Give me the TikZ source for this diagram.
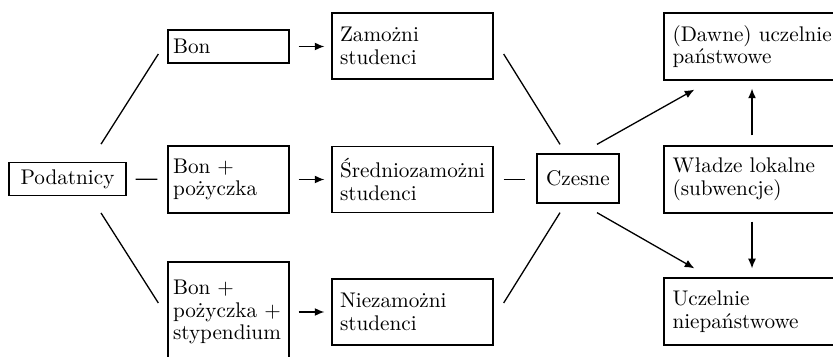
\documentclass[tikz,border=0pt]{standalone}
\usepackage{fontspec}
\usetikzlibrary{arrows.meta}
\hyphenpenalty=10000
\begin{document}
\begin{tikzpicture}[x=0.5pt,y=-0.5pt,
  box/.style={draw, rectangle, line width=0.65pt, inner ysep=0pt,
    font={\fontsize{10.6pt}{11.35pt}\selectfont}},
  cbox/.style={box, align=center, inner xsep=2pt},
  lbox/.style={box, align=left, inner xsep=2.5pt, text width=55.5pt},
  mbox/.style={box, align=left, inner xsep=4pt, text width=72.5pt, minimum height=33pt},
  rbox/.style={box, align=left, inner xsep=4.25pt, text width=79.5pt, minimum height=33.5pt},
  conn/.style={line width=0.65pt},
  arr/.style={conn, -{Latex[length=4.8pt,width=4pt]}}
]
\useasboundingbox (0,0) rectangle (833,357);
\clip (0,0) rectangle (833,357);

\node[cbox, minimum width=58.5pt, minimum height=16.5pt] (pod) at (67.5,179.3) {Podatnicy};

\node[lbox, minimum height=16.5pt] (bon) at (228.5,46.5) {\mbox{Bon}};
\node[lbox, minimum height=33.5pt] (bonp) at (228.5,179.5) {\mbox{Bon +}\\\mbox{pożyczka}};
\node[lbox, minimum height=50pt] (bonps) at (228.5,312) {\mbox{Bon +}\\\mbox{pożyczka +}\\\mbox{stypendium}};

\node[mbox] (zam) at (412.5,46) {\mbox{Zamożni}\\\mbox{studenci}};
\node[mbox] (sre) at (412.5,179.5) {\mbox{Średniozamożni}\\\mbox{studenci}};
\node[mbox] (nie) at (412.5,312) {\mbox{Niezamożni}\\\mbox{studenci}};

\node[cbox, minimum width=41pt, minimum height=24.5pt] (cze) at (578,178.5) {Czesne};

\node[rbox] (daw) at (752,46.5) {\mbox{(Dawne) uczelnie}\\\mbox{państwowe}};
\node[rbox] (wla) at (752,179.5) {\mbox{Władze lokalne}\\\mbox{(subwencje)}};
\node[rbox] (uni) at (752,311.5) {\mbox{Uczelnie}\\\mbox{niepaństwowe}};

\draw[conn] ([shift={(33.5,-18)}]pod.north) -- ([shift={(-9,7.5)}]bon.west);
\draw[conn] ([shift={(9,0)}]pod.east) -- ([shift={(-10,-0.3)}]bonp.west);
\draw[conn] ([shift={(33.5,16.5)}]pod.south) -- ([shift={(-9,-9)}]bonps.west);

\draw[arr] ([shift={(9,0)}]bon.east) -- ([shift={(-7,0.5)}]zam.west);
\draw[arr] ([shift={(9,0)}]bonp.east) -- ([shift={(-7,0)}]sre.west);
\draw[arr] ([shift={(9,0)}]bonps.east) -- ([shift={(-7,0)}]nie.west);

\draw[conn] ([shift={(10,8)}]zam.east) -- ([shift={(-18,-9)}]cze.north);
\draw[conn] ([shift={(10,0)}]sre.east) -- ([shift={(-11,1)}]cze.west);
\draw[conn] ([shift={(10,-9)}]nie.east) -- ([shift={(-18,9)}]cze.south);

\draw[arr] ([shift={(19,-9)}]cze.north) -- ([shift={(31,9)}]daw.south west);
\draw[arr] ([shift={(19,9)}]cze.south) -- ([shift={(31,-9)}]uni.north west);
\draw[arr] ([shift={(0,-10)}]wla.north) -- ([shift={(0,8)}]daw.south);
\draw[arr] ([shift={(0,8)}]wla.south) -- ([shift={(0,-9)}]uni.north);
\end{tikzpicture}
\end{document}
